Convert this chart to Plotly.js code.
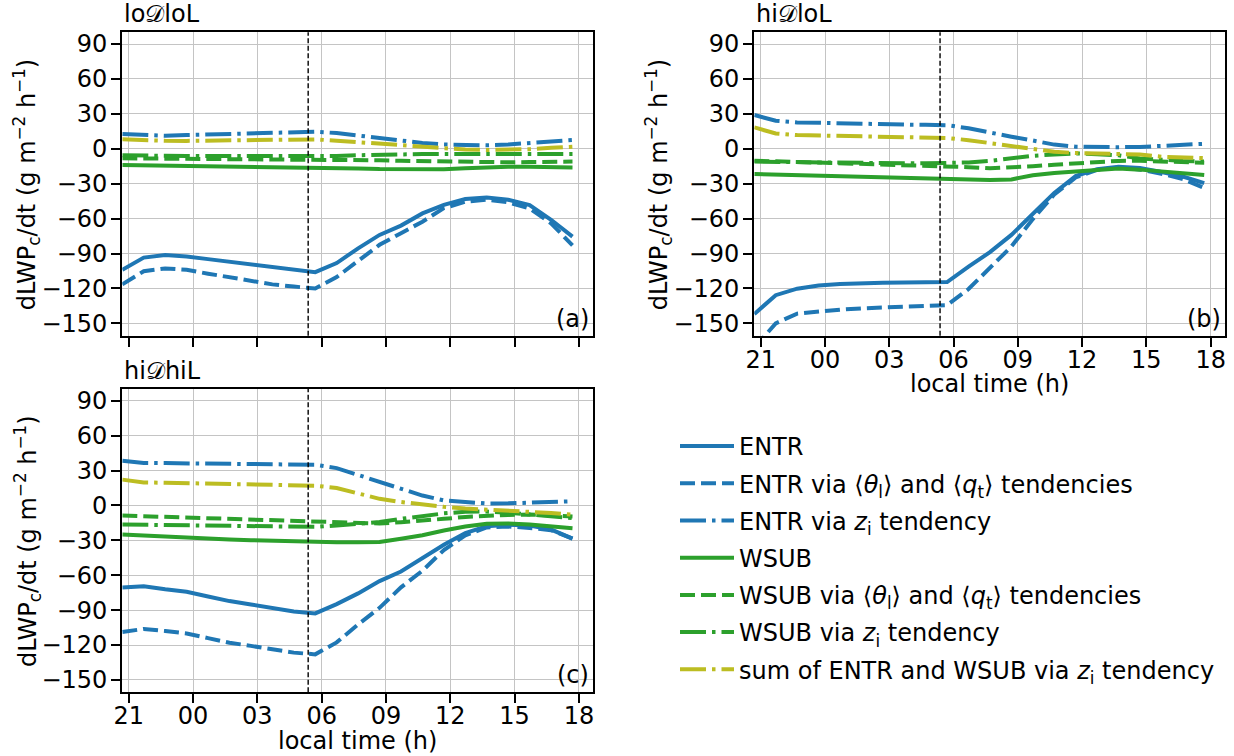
<!DOCTYPE html>
<html>
<head>
<meta charset="utf-8">
<script src="https://cdn.plot.ly/plotly-3.0.1.min.js"></script>
<style>
  html, body { margin: 0; padding: 0; background: #fff; }
  #chart { width: 1234px; height: 756px; }
</style>
</head>
<body>
<div id="chart"></div>
<script>
// Local time in hours counted from 00 of the first day (21 = 21:00 of the evening before)
const hours = [20.7, 21.7, 22.7, 23.7, 24.7, 25.7, 26.7, 27.7, 28.7, 29.7, 30.7,
               31.7, 32.7, 33.7, 34.7, 35.7, 36.7, 37.7, 38.7, 39.7, 40.7, 41.7];

// Sunrise marker (hours, same clock as above)
const sunriseHour = 29.37;

// Tick positions / labels
const xTickVals = [21, 24, 27, 30, 33, 36, 39, 42];
const xTickText = ['21', '00', '03', '06', '09', '12', '15', '18'];
const yTickVals = [-150, -120, -90, -60, -30, 0, 30, 60, 90];
const yTickText = ['\u2212150', '\u2212120', '\u221290', '\u221260', '\u221230', '0', '30', '60', '90'];

// Panel (a): loDloL
const entrA       = [-104, -93.5, -91.3, -92.5, -94.8, -97, -99.4, -101.7, -104, -106, -98.2,
                     -85.5, -74, -66, -55.5, -48.2, -43.2, -41.8, -43.8, -48.3, -61, -75.5];
const entrThermoA = [-116.5, -105.2, -102.8, -104, -107.3, -110.3, -113.3, -116.5, -118.4, -120, -110.2,
                     -96, -82.5, -72.5, -62.6, -51, -45.5, -43.7, -46, -51.2, -64, -83];
const entrZiA     = [12.7, 11.8, 11.2, 11.8, 12.4, 13, 13.5, 13.9, 14.3, 14.7, 13.5,
                     11.5, 9.2, 6.8, 5, 3.7, 3.1, 3, 3.7, 5, 6.3, 7.5];
const wsubA       = [-14, -14.2, -14.4, -14.7, -14.9, -15.1, -15.4, -15.6, -15.8, -16, -16.4,
                     -16.9, -17.4, -17.7, -17.7, -17.6, -16.8, -16, -15.5, -15.5, -15.7, -16];
const wsubThermoA = [-8.2, -8.3, -8.4, -8.5, -8.6, -8.7, -8.8, -8.9, -9, -9, -9.3,
                     -9.6, -9.9, -10.3, -10.7, -11.1, -11.5, -11.7, -11.6, -11.4, -11.2, -11];
const wsubZiA     = [-5.5, -6, -6, -6.1, -6.2, -6.3, -6.3, -6.4, -6.5, -6.5, -6.2,
                     -5.5, -5, -4.5, -4.5, -4.5, -4.5, -4.5, -4.5, -4.5, -4.5, -4.5];
const sumZiA      = [8.1, 7.3, 6.9, 6.8, 7.1, 7.4, 7.6, 7.8, 8, 8.1, 7,
                     5.7, 4.2, 2.8, 1.3, 0, -0.7, -1, -1, -0.3, 0.8, 1.8];

// Panel (b): hiDloL
const entrB       = [-142, -125.8, -120.2, -117.5, -116.2, -115.2, -115, -114.8, -114.7, -114.5, -101.3,
                     -88.8, -74, -56.5, -37.9, -23.5, -17.5, -15.4, -16.6, -19.9, -23.8, -29.5];
const entrThermoB = [-171, -150, -141.6, -139.5, -138.2, -137.1, -136.3, -135.6, -134.9, -134.3, -120.5,
                     -102.8, -84, -60.4, -39.3, -24.6, -18.1, -16.1, -17.9, -21.4, -25.9, -33.7];
const entrZiB     = [29, 24.1, 22.7, 22.2, 21.6, 21.2, 21, 20.8, 20.6, 20.3, 17.6,
                     13.6, 10.4, 7.1, 3.6, 1.8, 1.4, 1.4, 1.6, 2.6, 3.5, 4.3];
const wsubB       = [-21.7, -22.2, -22.7, -23.2, -23.7, -24.1, -24.7, -25.2, -25.9, -26.4, -26.6,
                     -26.8, -26.3, -22.8, -20.7, -19.3, -17.9, -16.9, -17.9, -19.3, -20.9, -22.6];
const wsubThermoB = [-10.2, -10.7, -11.2, -11.7, -12.1, -12.6, -13.1, -13.6, -14.1, -14.8, -15.8,
                     -16.8, -16.1, -14.9, -13.7, -12.4, -11.1, -10.4, -10.3, -10.6, -11.3, -12];
const wsubZiB     = [-11, -11.3, -11.6, -11.9, -12.2, -12.4, -12.5, -12.5, -12.5, -12.4, -11.7,
                     -10.4, -8.1, -6, -4.9, -4, -4.6, -5.6, -8.3, -9.5, -10.4, -11];
const sumZiB      = [18.4, 13.2, 11.8, 11.5, 11.2, 11, 10.6, 10.3, 9.9, 9.3, 7.4,
                     4.7, 2, -0.4, -2.6, -3.6, -4, -4.2, -5, -6.8, -7.4, -8];

// Panel (c): hiDhiL
const entrC       = [-70.5, -69.4, -72.1, -74.2, -78.2, -82.2, -85.1, -88.2, -91.1, -92.8, -84.8,
                     -75.6, -65, -56.8, -45.4, -33.8, -23.7, -17.8, -16.6, -17.2, -20.7, -28.5];
const entrThermoC = [-108.8, -106.1, -107.9, -110, -114, -118, -120.7, -123.7, -126.5, -128, -117.7,
                     -102.3, -88, -70.4, -56.1, -38.3, -25.7, -18.9, -18.1, -19.3, -21.3, -28.5];
const entrZiC     = [38.5, 36.5, 36.4, 36.3, 36.2, 36, 35.8, 35.5, 35.3, 35, 32.1,
                     26, 20.5, 14.4, 8.5, 4.3, 2.8, 1.7, 1.8, 2.2, 3, 3.6];
const wsubC       = [-25, -26, -27, -28, -28.7, -29.3, -29.9, -30.5, -31.1, -31.6, -31.6,
                     -31.6, -31.4, -28.6, -25.6, -21.5, -18.1, -15.8, -15.5, -16.4, -17.8, -19.5];
const wsubThermoC = [-8.7, -9.2, -9.8, -10.3, -10.8, -11.3, -11.9, -12.5, -13, -13.6, -14.3,
                     -15, -15.5, -14.4, -13.3, -11.5, -9.9, -8.6, -8.1, -7.8, -8.5, -9.4];
const wsubZiC     = [-16.4, -16.7, -16.9, -17.2, -17.4, -17.7, -17.9, -18.1, -18.2, -18.4, -17.2,
                     -15.6, -14.3, -11.5, -8.8, -6.8, -5.4, -5.2, -6.2, -7.8, -9.3, -10.8];
const sumZiC      = [22.2, 19.8, 19.5, 19.2, 18.9, 18.6, 18.3, 17.9, 17.6, 17, 15,
                     10.5, 5.7, 3, 0.8, -1.2, -2.6, -3.4, -4.1, -5.1, -6.5, -8];

const panelNames   = ['lo\uD835\uDC9FloL', 'hi\uD835\uDC9FloL', 'hi\uD835\uDC9FhiL'];
const panelLetters = ['(a)', '(b)', '(c)'];
const yTitle = 'dLWP<sub>c</sub>/dt (g m<sup>\u22122</sup> h<sup>\u22121</sup>)';
const xTitle = 'local time (h)';

const seriesNames = [
  'ENTR',
  'ENTR via \u27E8<i>\u03B8</i><sub>l</sub>\u27E9 and \u27E8<i>q</i><sub>t</sub>\u27E9 tendencies',
  'ENTR via <i>z</i><sub>i</sub> tendency',
  'WSUB',
  'WSUB via \u27E8<i>\u03B8</i><sub>l</sub>\u27E9 and \u27E8<i>q</i><sub>t</sub>\u27E9 tendencies',
  'WSUB via <i>z</i><sub>i</sub> tendency',
  'sum of ENTR and WSUB via <i>z</i><sub>i</sub> tendency'
];

const BLUE = '#1f77b4', GREEN = '#2ca02c', OLIVE = '#bcbd22';
const DASH = '15px,6px';
const DASHDOT = '26px,6px,3.5px,6px';
const seriesStyle = [
  {color: BLUE,  dash: 'solid'},
  {color: BLUE,  dash: DASH},
  {color: BLUE,  dash: DASHDOT},
  {color: GREEN, dash: 'solid'},
  {color: GREEN, dash: DASH},
  {color: GREEN, dash: DASHDOT},
  {color: OLIVE, dash: DASHDOT}
];

const panels = [
  [entrA, entrThermoA, entrZiA, wsubA, wsubThermoA, wsubZiA, sumZiA],
  [entrB, entrThermoB, entrZiB, wsubB, wsubThermoB, wsubZiB, sumZiB],
  [entrC, entrThermoC, entrZiC, wsubC, wsubThermoC, wsubZiC, sumZiC]
];
const axisIds = [['x', 'y'], ['x2', 'y2'], ['x3', 'y3']];
const hasXLabels = [false, true, true];

const traces = [];
panels.forEach((series, p) => {
  series.forEach((vals, s) => {
    traces.push({
      type: 'scatter', mode: 'lines',
      x: hours, y: vals,
      xaxis: axisIds[p][0], yaxis: axisIds[p][1],
      name: seriesNames[s],
      legendgroup: 'g' + s,
      showlegend: p === 0,
      line: {color: seriesStyle[s].color, dash: seriesStyle[s].dash, width: 4},
      hoverinfo: 'x+y+name'
    });
  });
});

const W = 1234, H = 756;
const colDom = [[122.3 / W, 593.3 / W], [754.3 / W, 1225 / W]];
const rowDom = [[(H - 335.7) / H, (H - 32.3) / H], [(H - 692.3) / H, (H - 389) / H]];

const FS = 24;

function xAxis(domain, anchor, labels) {
  return {
    domain: domain, anchor: anchor, range: [20.7, 42.67],
    tickmode: 'array', tickvals: xTickVals, ticktext: xTickText,
    showticklabels: labels, tickfont: {size: FS},
    ticks: 'outside', ticklen: 9, tickwidth: 2.2, tickcolor: '#000',
    ticklabelstandoff: -8,
    showline: true, mirror: true, linecolor: '#000', linewidth: 2.2,
    showgrid: true, gridcolor: '#c4c4c4', gridwidth: 1.3, zeroline: false,
    automargin: false
  };
}
function yAxis(domain, anchor) {
  return {
    domain: domain, anchor: anchor, range: [-160.6, 100.1],
    tickmode: 'array', tickvals: yTickVals, ticktext: yTickText, tickfont: {size: FS},
    ticks: 'outside', ticklen: 9, tickwidth: 2.2, tickcolor: '#000',
    ticklabelstandoff: -1,
    showline: true, mirror: true, linecolor: '#000', linewidth: 2.2,
    showgrid: true, gridcolor: '#c4c4c4', gridwidth: 1.3, zeroline: false,
    automargin: false
  };
}

const annotations = [];
const shapes = [];
axisIds.forEach(([xa, ya], p) => {
  // panel name above the frame
  annotations.push({
    xref: xa + ' domain', yref: ya + ' domain', x: 0, y: 1,
    xanchor: 'left', yanchor: 'bottom', yshift: 2,
    text: panelNames[p], showarrow: false, font: {size: FS}
  });
  // panel letter in the lower-right corner
  annotations.push({
    xref: xa + ' domain', yref: ya + ' domain', x: 1, y: 0,
    xanchor: 'right', yanchor: 'bottom', xshift: -2, yshift: 1,
    text: panelLetters[p], showarrow: false, font: {size: FS}
  });
  // y-axis title
  annotations.push({
    xref: xa + ' domain', yref: ya + ' domain', x: 0, y: 0.5,
    xanchor: 'center', yanchor: 'middle', xshift: -95, textangle: -90,
    text: yTitle, showarrow: false, font: {size: FS}
  });
  // x-axis title under the tick labels
  if (hasXLabels[p]) {
    annotations.push({
      xref: xa + ' domain', yref: ya + ' domain', x: 0.5, y: 0,
      xanchor: 'center', yanchor: 'middle', yshift: -48.5,
      text: xTitle, showarrow: false, font: {size: FS}
    });
  }
  // sunrise marker
  shapes.push({
    type: 'line', xref: xa, yref: ya + ' domain',
    x0: sunriseHour, x1: sunriseHour, y0: 0, y1: 1,
    line: {color: '#000', width: 1.4, dash: '5px,2.5px'}
  });
});

const layout = {
  width: W, height: H,
  margin: {l: 0, r: 0, t: 0, b: 0},
  paper_bgcolor: '#fff', plot_bgcolor: '#fff',
  font: {family: 'DejaVu Sans, sans-serif', size: FS, color: '#000'},
  showlegend: true,
  legend: {
    x: 675 / W, y: (H - 424) / H, xanchor: 'left', yanchor: 'top',
    bgcolor: 'rgba(0,0,0,0)', borderwidth: 0,
    font: {size: FS}, tracegroupgap: 3, itemwidth: 54,
    traceorder: 'grouped'
  },
  xaxis: xAxis(colDom[0], 'y', false),
  yaxis: yAxis(rowDom[0], 'x'),
  xaxis2: xAxis(colDom[1], 'y2', true),
  yaxis2: yAxis(rowDom[0], 'x2'),
  xaxis3: xAxis(colDom[0], 'y3', true),
  yaxis3: yAxis(rowDom[1], 'x3'),
  annotations: annotations,
  shapes: shapes
};

Plotly.newPlot('chart', traces, layout, {displayModeBar: false});
</script>
</body>
</html>
